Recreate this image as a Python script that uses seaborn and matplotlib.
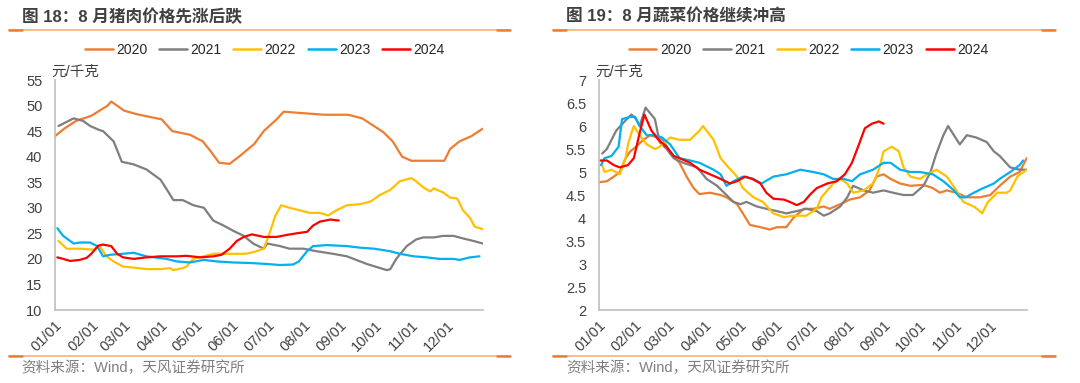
import pandas as pd
import seaborn as sns
import matplotlib.pyplot as plt
from matplotlib.lines import Line2D

# ---- data: day of year -> price (元/千克) ----
years = ["2020", "2021", "2022", "2023", "2024"]
colors = ["#ED7D31", "#7F7F7F", "#FFC000", "#00B0F0", "#FF0000"]
month_days = [0, 31, 59, 90, 120, 151, 181, 212, 243, 273, 304, 334, 365]
month_labels = ["01/01", "02/01", "03/01", "04/01", "05/01", "06/01", "07/01",
                "08/01", "09/01", "10/01", "11/01", "12/01", ""]

# 猪肉
pork_d_2020 = [0, 8, 18, 31, 45, 48, 59, 70, 91, 100, 115, 126, 133, 140, 149, 158, 170, 178,
               189, 195, 212, 230, 250, 262, 272, 280, 288, 296, 304, 318, 332, 337, 345, 355, 365]
pork_2020 = [44, 45.5, 47, 48, 50, 50.8, 49, 48.3, 47.3, 45, 44.3, 43, 41, 38.8, 38.6, 40.2, 42.5, 45,
             47.3, 48.8, 48.5, 48.2, 48.2, 47.5, 46, 44.8, 43, 40, 39.2, 39.2, 39.2, 41.5, 43, 44, 45.5]
pork_d_2021 = [3, 16, 24, 30, 38, 41, 50, 57, 67, 78, 90, 97, 101, 109, 118, 127, 135, 144, 152,
               161, 169, 178, 181, 192, 200, 212, 223, 237, 249, 257, 266, 283, 286, 291, 300,
               308, 314, 323, 331, 340, 348, 357, 365]
pork_2021 = [46, 47.5, 47, 46, 45.2, 45, 43, 39, 38.5, 37.5, 35.5, 33, 31.5, 31.5, 30.5, 30, 27.5,
             26.5, 25.5, 24.5, 23, 22, 23, 22.5, 22, 22, 21.5, 21, 20.5, 19.8, 19, 17.8, 18, 20,
             22.5, 23.8, 24.2, 24.2, 24.5, 24.5, 24, 23.5, 23]
pork_d_2022 = [3, 10, 21, 33, 38, 44, 50, 58, 67, 78, 90, 98, 101, 109, 112, 118, 127, 135, 152,
               163, 172, 178, 183, 188, 193, 200, 209, 217, 226, 233, 240, 249, 260, 269, 277,
               286, 294, 304, 308, 314, 320, 323, 331, 337, 343, 348, 354, 358, 365]
pork_2022 = [23.5, 22, 22, 21.8, 22.5, 20.5, 19.5, 18.5, 18.3, 18, 18, 18.2, 17.8, 18.2, 18.5, 20,
             20.5, 21, 21, 21, 21.5, 22, 25, 28.5, 30.5, 30, 29.5, 29, 29, 28.5, 29.5, 30.5, 30.7,
             31.2, 32.5, 33.5, 35.2, 35.8, 35.2, 34, 33.2, 33.8, 33, 32, 31.8, 29.5, 28, 26.3, 25.8]
pork_d_2023 = [2, 7, 16, 21, 30, 36, 41, 47, 58, 67, 78, 95, 104, 115, 127, 138, 152, 166, 181,
               192, 203, 208, 215, 220, 232, 249, 260, 272, 286, 294, 306, 317, 328, 340, 345, 354, 362]
pork_2023 = [26, 24.5, 23, 23.2, 23.2, 22.5, 20.5, 20.8, 21, 21.2, 20.5, 20, 19.5, 19.3, 19.8,
             19.5, 19.3, 19.2, 19, 18.8, 18.9, 19.5, 21.5, 22.5, 22.7, 22.5, 22.2, 22, 21.5, 21,
             20.5, 20.3, 20, 20, 19.8, 20.3, 20.5]
pork_d_2024 = [2, 7, 13, 21, 27, 31, 37, 41, 48, 53, 58, 67, 78, 90, 104, 112, 124, 135, 142,
               149, 155, 161, 168, 178, 189, 198, 206, 215, 220, 226, 235, 242]
pork_2024 = [20.3, 20, 19.6, 19.8, 20.2, 21, 22.6, 22.8, 22.5, 21, 20.3, 20, 20.3, 20.5, 20.5,
             20.6, 20.3, 20.5, 20.8, 22, 23.5, 24.3, 24.8, 24.3, 24.3, 24.7, 25, 25.3, 26.5,
             27.3, 27.7, 27.5]

# 蔬菜
veg_d_2020 = [1, 7, 13, 18, 23, 27, 32, 38, 44, 50, 55, 61, 69, 75, 81, 86, 95, 104, 109, 118,
              123, 129, 138, 146, 152, 160, 166, 175, 183, 192, 197, 206, 214, 223, 231, 237,
              243, 249, 257, 266, 277, 285, 291, 297, 305, 314, 325, 334, 342, 351, 359, 365]
veg_2020 = [4.78, 4.8, 4.9, 5.0, 5.3, 5.45, 5.55, 5.7, 5.8, 5.75, 5.7, 5.4, 5.2, 4.9, 4.65,
            4.52, 4.55, 4.5, 4.45, 4.3, 4.1, 3.85, 3.8, 3.75, 3.8, 3.8, 4.0, 4.2, 4.2, 4.25,
            4.2, 4.3, 4.4, 4.45, 4.6, 4.9, 4.95, 4.85, 4.75, 4.7, 4.72, 4.65, 4.55, 4.6, 4.55,
            4.45, 4.45, 4.5, 4.7, 4.9, 5.0, 5.3]
veg_d_2021 = [3, 7, 15, 24, 28, 32, 35, 40, 48, 52, 58, 64, 72, 84, 92, 101, 109, 115, 121, 126,
              135, 143, 152, 160, 169, 177, 186, 192, 197, 206, 212, 217, 226, 234, 243, 251,
              260, 268, 277, 283, 288, 294, 298, 303, 308, 314, 322, 331, 337, 342, 351, 359, 365]
veg_2021 = [5.4, 5.5, 5.9, 6.15, 6.25, 6.15, 6.0, 6.4, 6.15, 5.65, 5.5, 5.3, 5.2, 5.1, 4.85,
            4.7, 4.5, 4.35, 4.3, 4.35, 4.25, 4.2, 4.15, 4.1, 4.15, 4.2, 4.15, 4.05, 4.1, 4.25,
            4.45, 4.7, 4.6, 4.55, 4.6, 4.55, 4.5, 4.5, 4.7, 5.0, 5.4, 5.8, 6.0, 5.8, 5.6, 5.8,
            5.75, 5.65, 5.45, 5.35, 5.1, 5.05, 5.05]
veg_d_2022 = [3, 5, 11, 18, 23, 25, 28, 30, 35, 41, 48, 52, 61, 69, 78, 86, 89, 98, 104, 109,
              118, 123, 132, 140, 149, 158, 166, 177, 186, 190, 195, 200, 206, 212, 217, 226,
              234, 239, 243, 250, 256, 260, 266, 274, 280, 288, 297, 305, 311, 320, 325, 327,
              332, 340, 348, 351, 357, 365]
veg_2022 = [5.15, 5.0, 5.05, 4.95, 5.3, 5.6, 5.85, 6.0, 5.8, 5.6, 5.5, 5.55, 5.75, 5.7, 5.7,
            5.9, 6.0, 5.7, 5.3, 5.15, 4.9, 4.65, 4.45, 4.35, 4.1, 4.02, 4.05, 4.05, 4.2, 4.45,
            4.6, 4.75, 4.85, 4.75, 4.55, 4.6, 4.75, 5.05, 5.45, 5.55, 5.45, 5.1, 4.9, 4.85,
            4.95, 5.05, 4.9, 4.6, 4.35, 4.25, 4.15, 4.1, 4.35, 4.55, 4.55, 4.6, 4.9, 5.05]
veg_d_2023 = [2, 5, 11, 17, 20, 27, 31, 35, 41, 48, 54, 61, 69, 78, 86, 98, 104, 109, 115, 123,
              132, 139, 149, 160, 172, 183, 192, 200, 209, 216, 223, 234, 243, 249, 257, 266,
              274, 285, 294, 303, 308, 313, 320, 328, 337, 342, 351, 359, 362]
veg_2023 = [5.15, 5.3, 5.35, 5.55, 6.15, 6.2, 6.2, 6.0, 5.8, 5.8, 5.75, 5.6, 5.3, 5.25, 5.2,
            5.05, 4.95, 4.7, 4.8, 4.9, 4.85, 4.75, 4.9, 4.95, 5.05, 5.0, 4.95, 4.85, 4.85, 4.8,
            4.95, 5.05, 5.2, 5.2, 5.05, 5.0, 5.0, 4.95, 4.8, 4.6, 4.45, 4.45, 4.55, 4.65, 4.75,
            4.85, 5.0, 5.15, 5.25]
veg_d_2024 = [1, 7, 13, 18, 25, 30, 35, 39, 45, 51, 58, 64, 69, 78, 86, 95, 104, 112, 118, 125,
              131, 138, 143, 149, 158, 163, 169, 175, 180, 186, 195, 203, 210, 216, 222, 227,
              233, 239, 243]
veg_2024 = [5.25, 5.25, 5.15, 5.1, 5.15, 5.3, 5.85, 6.25, 5.9, 5.7, 5.55, 5.35, 5.3, 5.2, 5.05,
            4.95, 4.85, 4.75, 4.8, 4.9, 4.85, 4.75, 4.55, 4.42, 4.4, 4.35, 4.28, 4.35, 4.5,
            4.65, 4.75, 4.8, 4.95, 5.2, 5.6, 5.95, 6.05, 6.1, 6.05]


def make_df(days, vals):
    rows = []
    for y, d, v in zip(years, days, vals):
        rows.append(pd.DataFrame({"day": d, "price": v, "year": y}))
    return pd.concat(rows, ignore_index=True)


pork_df = make_df([pork_d_2020, pork_d_2021, pork_d_2022, pork_d_2023, pork_d_2024],
                  [pork_2020, pork_2021, pork_2022, pork_2023, pork_2024])
veg_df = make_df([veg_d_2020, veg_d_2021, veg_d_2022, veg_d_2023, veg_d_2024],
                 [veg_2020, veg_2021, veg_2022, veg_2023, veg_2024])

sns.set_style("white")
plt.rcParams["font.family"] = ["Liberation Sans", "Noto Sans CJK SC", "DejaVu Sans"]

fig = plt.figure(figsize=(10.8, 3.83), dpi=100)
ax1 = fig.add_axes([0.0509, 0.1906, 0.3963, 0.6005])
ax2 = fig.add_axes([0.5543, 0.1906, 0.3963, 0.6005])

palette = dict(zip(years, colors))
axis_gray = "#BFBFBF"
text_gray = "#404040"


def draw(ax, df, ylim, yticks, ylabels):
    sns.lineplot(data=df, x="day", y="price", hue="year", palette=palette,
                 estimator=None, sort=False, linewidth=1.6, legend=False, ax=ax)
    ax.set_xlim(0, 365)
    ax.set_ylim(*ylim)
    ax.set_xticks(month_days)
    ax.set_xticklabels(month_labels, rotation=45, ha="right", rotation_mode="anchor",
                       fontsize=10.5, color=text_gray)
    ax.set_yticks(yticks)
    ax.set_yticklabels(ylabels, fontsize=10.5, color=text_gray)
    ax.set_xlabel("")
    ax.set_ylabel("")
    for s in ["top", "right"]:
        ax.spines[s].set_visible(False)
    for s in ["left", "bottom"]:
        ax.spines[s].set_color(axis_gray)
        ax.spines[s].set_linewidth(1.2)
    ax.tick_params(axis="both", direction="out", length=4, width=1, color=axis_gray)
    ax.tick_params(axis="x", pad=2)
    ax.tick_params(axis="y", pad=5)
    ax.grid(False)
    ax.text(-0.008, 1.035, "元/千克", transform=ax.transAxes, fontsize=10.5,
            color=text_gray, ha="left", va="center")
    handles = [Line2D([0], [0], color=c, lw=1.8) for c in colors]
    ax.legend(handles, years, ncol=5, loc="center", bbox_to_anchor=(0.49, 1.13),
              frameon=False, fontsize=10, handlelength=2.0, handletextpad=0.25,
              columnspacing=0.85, labelcolor="#262626", borderaxespad=0, borderpad=0)


draw(ax1, pork_df, (10, 55), list(range(10, 56, 5)), [str(v) for v in range(10, 56, 5)])
yv = [2, 2.5, 3, 3.5, 4, 4.5, 5, 5.5, 6, 6.5, 7]
draw(ax2, veg_df, (2, 7), yv, ["%g" % v for v in yv])

# titles, rules, sources
for x0, x1, title in [(0.008, 0.472, "图 18：8 月猪肉价格先涨后跌"),
                      (0.512, 0.977, "图 19：8 月蔬菜价格继续冲高")]:
    fig.text(x0 + 0.012, 1 - 17 / 383, title, fontsize=12, fontweight="bold",
             color="#404040", va="center", ha="left")
    for yy in [1 - 30 / 383, 1 - 356 / 383]:
        fig.add_artist(Line2D([x0, x1], [yy, yy], color="#F7B27A", lw=1.2,
                              transform=fig.transFigure))
        fig.add_artist(Line2D([x0, x0 + 0.012], [yy, yy], color="#ED7D31", lw=1.8,
                              transform=fig.transFigure))
        fig.add_artist(Line2D([x1 - 0.012, x1], [yy, yy], color="#ED7D31", lw=1.8,
                              transform=fig.transFigure))
    fig.text(x0 + 0.012, 1 - 368 / 383, "资料来源：Wind，天风证券研究所", fontsize=10.5,
             color="#7F7F7F", va="center", ha="left")

fig.savefig("out.png", dpi=100)
plt.close(fig)
